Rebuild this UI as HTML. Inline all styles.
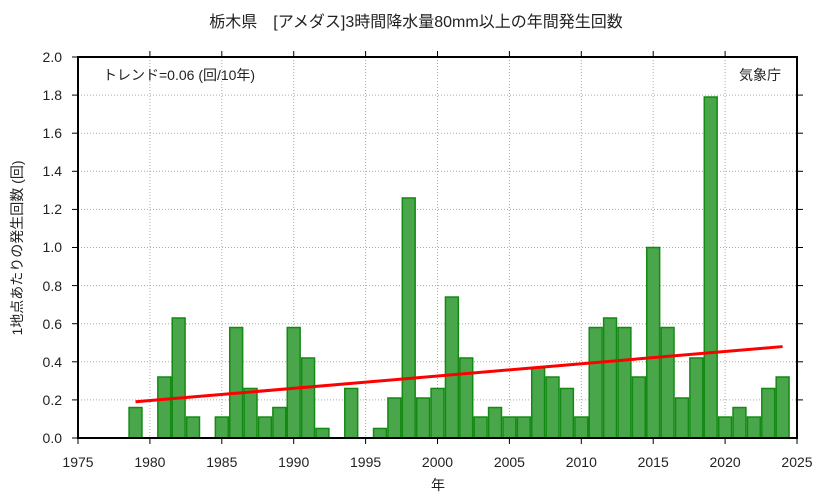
<!DOCTYPE html><html><head><meta charset="utf-8"><style>body{margin:0;background:#fff}svg{display:block}text{font-family:"Liberation Sans","Noto Sans CJK JP",sans-serif;fill:#222}</style></head><body>
<svg width="833" height="498" xmlns="http://www.w3.org/2000/svg">
<text x="416" y="27" font-size="16" text-anchor="middle">栃木県　[アメダス]3時間降水量80mm以上の年間発生回数</text>
<g stroke="#aaa" stroke-dasharray="1,2">
<line x1="78" x2="797" y1="399.9" y2="399.9"/><line x1="78" x2="797" y1="361.8" y2="361.8"/><line x1="78" x2="797" y1="323.7" y2="323.7"/><line x1="78" x2="797" y1="285.6" y2="285.6"/><line x1="78" x2="797" y1="247.5" y2="247.5"/><line x1="78" x2="797" y1="209.4" y2="209.4"/><line x1="78" x2="797" y1="171.3" y2="171.3"/><line x1="78" x2="797" y1="133.2" y2="133.2"/><line x1="78" x2="797" y1="95.1" y2="95.1"/>
<line x1="149.9" x2="149.9" y1="57" y2="438"/><line x1="221.8" x2="221.8" y1="57" y2="438"/><line x1="293.7" x2="293.7" y1="57" y2="438"/><line x1="365.6" x2="365.6" y1="57" y2="438"/><line x1="437.5" x2="437.5" y1="57" y2="438"/><line x1="509.4" x2="509.4" y1="57" y2="438"/><line x1="581.3" x2="581.3" y1="57" y2="438"/><line x1="653.2" x2="653.2" y1="57" y2="438"/><line x1="725.1" x2="725.1" y1="57" y2="438"/>
</g>
<g fill="#4aa64a" stroke="#138a13" stroke-width="1.5">
<rect x="129.08" y="407.52" width="12.88" height="30.48"/>
<rect x="157.84" y="377" width="12.88" height="61"/>
<rect x="172.22" y="318" width="12.88" height="120"/>
<rect x="186.6" y="417.04" width="12.88" height="20.96"/>
<rect x="215.36" y="417.04" width="12.88" height="20.96"/>
<rect x="229.74" y="327.51" width="12.88" height="110.49"/>
<rect x="244.12" y="388.47" width="12.88" height="49.53"/>
<rect x="258.5" y="417.04" width="12.88" height="20.96"/>
<rect x="272.88" y="407.52" width="12.88" height="30.48"/>
<rect x="287.26" y="327.51" width="12.88" height="110.49"/>
<rect x="301.64" y="357.99" width="12.88" height="80.01"/>
<rect x="316.02" y="428.47" width="12.88" height="9.53"/>
<rect x="344.78" y="388.47" width="12.88" height="49.53"/>
<rect x="373.54" y="428.47" width="12.88" height="9.53"/>
<rect x="387.92" y="398" width="12.88" height="40"/>
<rect x="402.3" y="197.97" width="12.88" height="240.03"/>
<rect x="416.68" y="398" width="12.88" height="40"/>
<rect x="431.06" y="388.47" width="12.88" height="49.53"/>
<rect x="445.44" y="297.03" width="12.88" height="140.97"/>
<rect x="459.82" y="357.99" width="12.88" height="80.01"/>
<rect x="474.2" y="417.04" width="12.88" height="20.96"/>
<rect x="488.58" y="407.52" width="12.88" height="30.48"/>
<rect x="502.96" y="417.04" width="12.88" height="20.96"/>
<rect x="517.34" y="417.04" width="12.88" height="20.96"/>
<rect x="531.72" y="367.51" width="12.88" height="70.49"/>
<rect x="546.1" y="377" width="12.88" height="61"/>
<rect x="560.48" y="388.47" width="12.88" height="49.53"/>
<rect x="574.86" y="417.04" width="12.88" height="20.96"/>
<rect x="589.24" y="327.51" width="12.88" height="110.49"/>
<rect x="603.62" y="318" width="12.88" height="120"/>
<rect x="618" y="327.51" width="12.88" height="110.49"/>
<rect x="632.38" y="377" width="12.88" height="61"/>
<rect x="646.76" y="247.5" width="12.88" height="190.5"/>
<rect x="661.14" y="327.51" width="12.88" height="110.49"/>
<rect x="675.52" y="398" width="12.88" height="40"/>
<rect x="689.9" y="357.99" width="12.88" height="80.01"/>
<rect x="704.28" y="97" width="12.88" height="341"/>
<rect x="718.66" y="417.04" width="12.88" height="20.96"/>
<rect x="733.04" y="407.52" width="12.88" height="30.48"/>
<rect x="747.42" y="417.04" width="12.88" height="20.96"/>
<rect x="761.8" y="388.47" width="12.88" height="49.53"/>
<rect x="776.18" y="377" width="12.88" height="61"/>
</g>
<line x1="135.52" y1="401.8" x2="782.62" y2="346.56" stroke="#f00" stroke-width="3"/>
<rect x="78" y="57" width="719" height="381" fill="none" stroke="#000" stroke-width="2"/>
<g stroke="#000">
<line x1="72" x2="78" y1="438" y2="438"/><line x1="72" x2="78" y1="399.9" y2="399.9"/><line x1="72" x2="78" y1="361.8" y2="361.8"/><line x1="72" x2="78" y1="323.7" y2="323.7"/><line x1="72" x2="78" y1="285.6" y2="285.6"/><line x1="72" x2="78" y1="247.5" y2="247.5"/><line x1="72" x2="78" y1="209.4" y2="209.4"/><line x1="72" x2="78" y1="171.3" y2="171.3"/><line x1="72" x2="78" y1="133.2" y2="133.2"/><line x1="72" x2="78" y1="95.1" y2="95.1"/><line x1="72" x2="78" y1="57" y2="57"/>
<line x1="797" x2="803" y1="399.9" y2="399.9"/><line x1="797" x2="803" y1="361.8" y2="361.8"/><line x1="797" x2="803" y1="323.7" y2="323.7"/><line x1="797" x2="803" y1="285.6" y2="285.6"/><line x1="797" x2="803" y1="247.5" y2="247.5"/><line x1="797" x2="803" y1="209.4" y2="209.4"/><line x1="797" x2="803" y1="171.3" y2="171.3"/><line x1="797" x2="803" y1="133.2" y2="133.2"/><line x1="797" x2="803" y1="95.1" y2="95.1"/>
<line x1="78" x2="78" y1="438" y2="444"/><line x1="149.9" x2="149.9" y1="438" y2="444"/><line x1="221.8" x2="221.8" y1="438" y2="444"/><line x1="293.7" x2="293.7" y1="438" y2="444"/><line x1="365.6" x2="365.6" y1="438" y2="444"/><line x1="437.5" x2="437.5" y1="438" y2="444"/><line x1="509.4" x2="509.4" y1="438" y2="444"/><line x1="581.3" x2="581.3" y1="438" y2="444"/><line x1="653.2" x2="653.2" y1="438" y2="444"/><line x1="725.1" x2="725.1" y1="438" y2="444"/><line x1="797" x2="797" y1="438" y2="444"/>
<line x1="149.9" x2="149.9" y1="51" y2="57"/><line x1="221.8" x2="221.8" y1="51" y2="57"/><line x1="293.7" x2="293.7" y1="51" y2="57"/><line x1="365.6" x2="365.6" y1="51" y2="57"/><line x1="437.5" x2="437.5" y1="51" y2="57"/><line x1="509.4" x2="509.4" y1="51" y2="57"/><line x1="581.3" x2="581.3" y1="51" y2="57"/><line x1="653.2" x2="653.2" y1="51" y2="57"/><line x1="725.1" x2="725.1" y1="51" y2="57"/>
</g>
<g font-size="14" text-anchor="end">
<text x="62" y="443">0.0</text><text x="62" y="405">0.2</text><text x="62" y="367">0.4</text><text x="62" y="329">0.6</text><text x="62" y="291">0.8</text><text x="62" y="252">1.0</text><text x="62" y="214">1.2</text><text x="62" y="176">1.4</text><text x="62" y="138">1.6</text><text x="62" y="100">1.8</text><text x="62" y="62">2.0</text>
</g>
<g font-size="14" text-anchor="middle">
<text x="78" y="467">1975</text><text x="149.9" y="467">1980</text><text x="221.8" y="467">1985</text><text x="293.7" y="467">1990</text><text x="365.6" y="467">1995</text><text x="437.5" y="467">2000</text><text x="509.4" y="467">2005</text><text x="581.3" y="467">2010</text><text x="653.2" y="467">2015</text><text x="725.1" y="467">2020</text><text x="797" y="467">2025</text>
<text x="438" y="490">年</text>
<text transform="translate(22,248) rotate(-90)">1地点あたりの発生回数 (回)</text>
</g>
<text x="103" y="80" font-size="14">トレンド=0.06 (回/10年)</text>
<text x="781" y="80" font-size="14" text-anchor="end">気象庁</text>
</svg></body></html>
